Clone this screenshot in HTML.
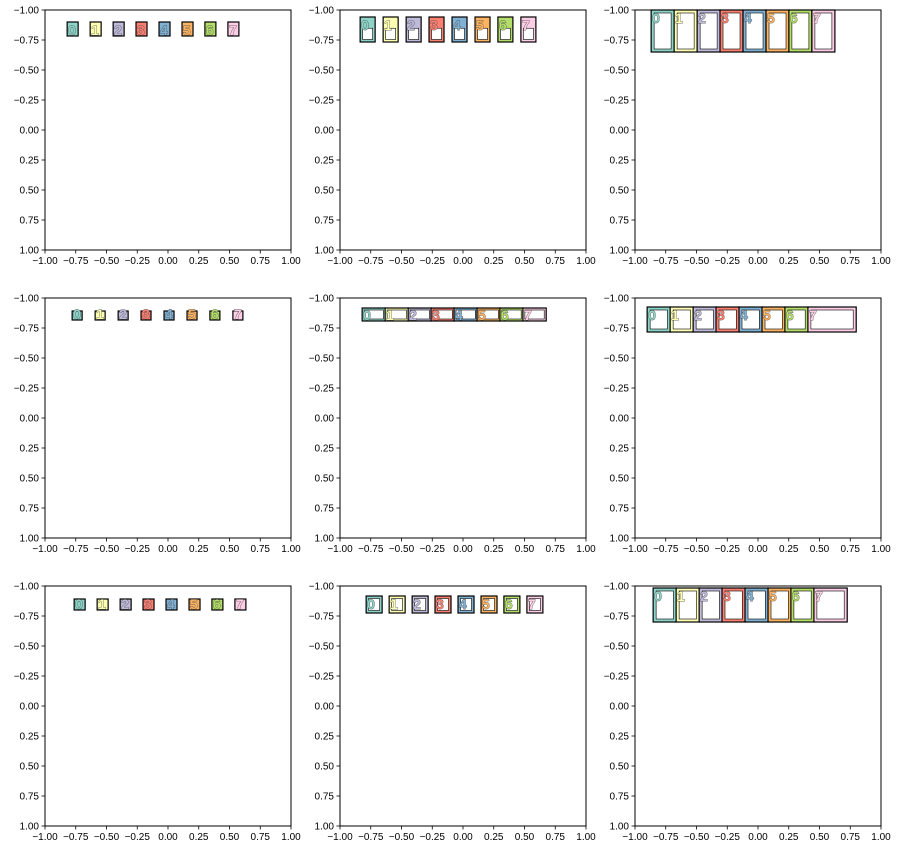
<!DOCTYPE html>
<html><head><meta charset="utf-8"><style>
body{margin:0;background:#fff;}
svg text{font-family:"Liberation Sans","DejaVu Sans",sans-serif;}
</style></head><body>
<svg id="fig" width="900" height="850" xmlns="http://www.w3.org/2000/svg"></svg>
<script>
const labels = ["0","1","2","3","4","5","6","7"];
const xvals = [-0.82,-0.633,-0.446,-0.26,-0.073,0.114,0.3,0.487];
const colors = ["#8dd3c7","#ffffb3","#bebada","#fb8072","#80b1d3","#fdb462","#b3de69","#fccde5"];
const tickVals = [-1,-0.75,-0.5,-0.25,0,0.25,0.5,0.75,1];
const tickLabels = ["\u22121.00","\u22120.75","\u22120.50","\u22120.25","0.00","0.25","0.50","0.75","1.00"];
const ns="http://www.w3.org/2000/svg";
const svg=document.getElementById('fig');
function mk(t,a,p){const e=document.createElementNS(ns,t);for(const k in a)e.setAttribute(k,a[k]);(p||svg).appendChild(e);return e;}
const colsX=[45,340,635], rowsY=[10,298,586], W=246, H=240;
const panels=[
 {off:0,w:11,top:12,h:14,inner:0,extra:0},
 {off:-2,w:15,top:7,h:25,inner:2.5,half:true,extra:0},
 {off:-6,w:23,top:0,h:42,inner:3,extra:0},
 {off:5,w:10,top:13,h:9,inner:0,extra:0},
 {off:0,w:23.3,top:10,h:13,inner:2,extra:0},
 {off:-10,w:23.3,top:9,h:25,inner:3,extra:25},
 {off:7,w:11,top:13,h:11,inner:0,extra:0},
 {off:4,w:16,top:10,h:17,inner:2.5,extra:0},
 {off:-4,w:23.3,top:2,h:34,inner:3,extra:10}
];
panels.forEach((p,pi)=>{
  const ax=colsX[pi%3], ay=rowsY[Math.floor(pi/3)];
  const g=mk('g',{});
  
  
  const sx=v=>ax+(v+1)/2*W, sy=v=>ay+(v+1)/2*H;
  tickVals.forEach((v,i)=>{
    mk('line',{x1:sx(v),x2:sx(v),y1:ay+H,y2:ay+H+3.5,stroke:'#000','stroke-width':0.8},g);
    const tx=mk('text',{x:sx(v),y:ay+H+14,'font-size':10,'text-anchor':'middle',fill:'#000'},g);
    tx.textContent=tickLabels[i];
    
    
    mk('line',{x1:ax-3.5,x2:ax,y1:sy(v),y2:sy(v),stroke:'#000','stroke-width':0.8},g);
    const ty=mk('text',{x:ax-6,y:sy(v)+3.5,'font-size':10,'text-anchor':'end',fill:'#000'},g);
    ty.textContent=tickLabels[i];
    
    
  });
  labels.forEach((lab,i)=>{
    const x=sx(xvals[i])+p.off, y=ay+p.top, w=p.w+(i===7?p.extra:0), h=p.h;
    const mg=mk('g',{},g);
    
    
    mk('rect',{x:x,y:y,width:w,height:h,fill:colors[i],stroke:'#000','stroke-width':1.2},mg);
    if(p.inner){
      const iy=p.half? y+h*0.45 : y+p.inner;
      const ih=p.half? h*0.55-p.inner : h-2*p.inner;
      mk('rect',{x:x+p.inner,y:iy,width:w-2*p.inner,height:ih,fill:'#fff',stroke:'#000','stroke-width':0.6},mg);
    }
    const t=mk('text',{x:x+1,y:y+Math.min(h,14)-1,'font-size':14,'font-weight':'bold',fill:colors[i],stroke:'#444','stroke-width':0.7,'paint-order':'stroke'},mg);
    t.textContent=lab;
  });
  const fr=mk('rect',{x:ax,y:ay,width:W,height:H,fill:'none',stroke:'#000','stroke-width':1},g);
  
  
});
</script>
</body></html>
